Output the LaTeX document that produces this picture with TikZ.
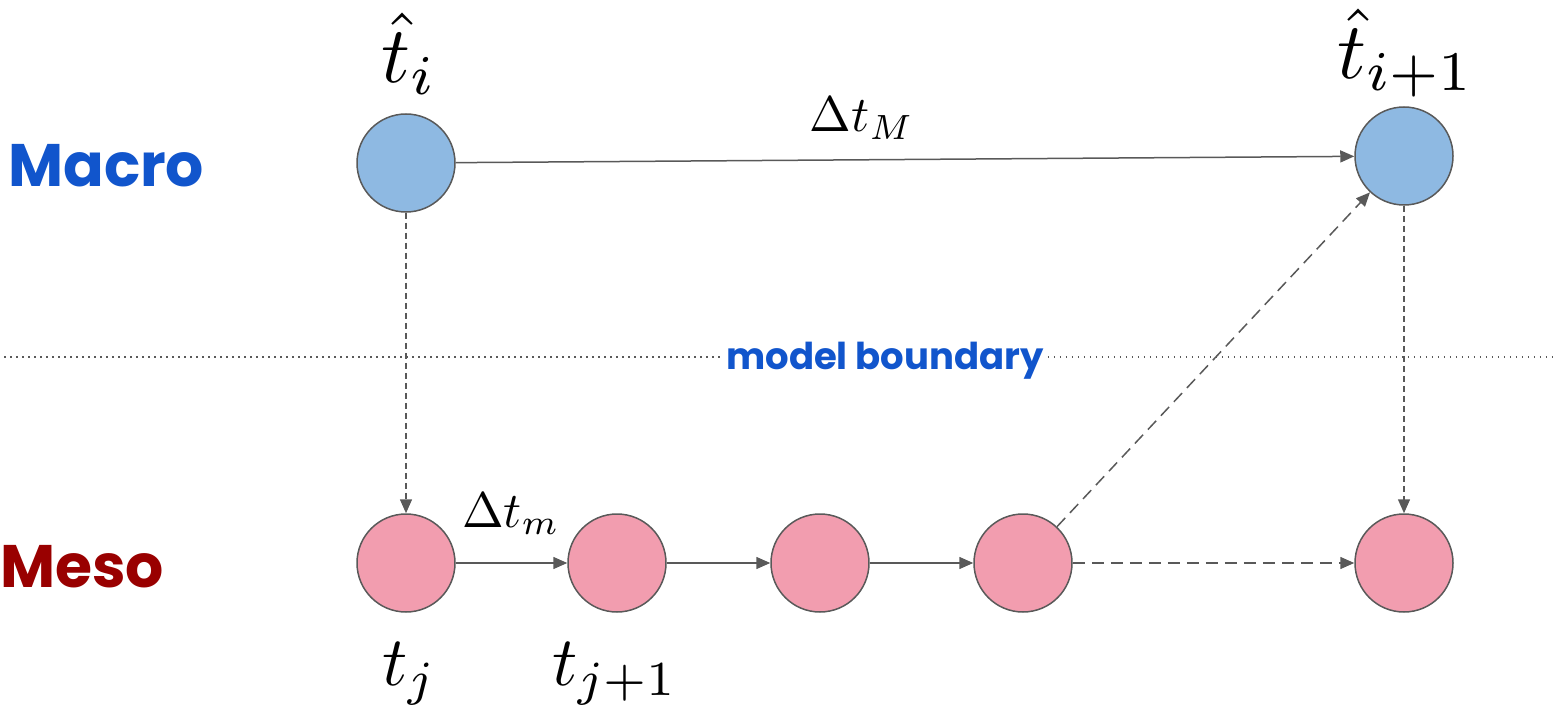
\documentclass[tikz,border=0pt]{standalone}
\usepackage{graphicx}
\usepackage{fontspec}
\usetikzlibrary{arrows.meta}
\newfontfamily\rowfont{Poppins}
\definecolor{edge}{HTML}{595959}
\definecolor{macrofill}{HTML}{8EB9E2}
\definecolor{mesofill}{HTML}{F29DAF}
\definecolor{macroblue}{HTML}{1155CC}
\definecolor{mesored}{HTML}{990000}
\newcommand{\mylargemath}[1]{\scalebox{8}{$#1$}}
\newcommand{\mymidmath}[1]{\scalebox{7}{$#1$}}
\newcommand{\mysmallmath}[1]{\scalebox{5}{$#1$}}
\tikzset{
  state/.style={circle, draw=edge, line width=1.5pt, minimum size=98pt, inner sep=0pt},
  macrostate/.style={state, fill=macrofill},
  mesostate/.style={state, fill=mesofill},
  conn/.style={draw=edge, line width=1.5pt, -{Triangle[length=14pt,width=12pt]}},
  shortdash/.style={dash pattern=on 6pt off 4pt},
  longdash/.style={dash pattern=on 12pt off 7pt},
  mathlabel/.style={anchor=base, inner sep=0pt},
  rowlabel/.style={anchor=base west, inner sep=0pt, font=\rowfont\bfseries\fontsize{60pt}{66pt}\selectfont},
}
\begin{document}
\begin{tikzpicture}[x=1pt,y=-1pt]
\useasboundingbox (0,0) rectangle (1556,714);
% row labels
\node[rowlabel, text=macroblue] (macro) at (8,187) {Macro};
\node[rowlabel, text=mesored] (meso) at (0,587) {Meso};
% boundary
\node[anchor=base, inner sep=0pt, text=macroblue, font=\rowfont\bfseries\fontsize{37pt}{42pt}\selectfont] (bnd) at (885,369) {model boundary};
\coordinate (bl) at (4,357);
\coordinate (br) at (1556,357);
\draw[edge, line width=1.2pt, dash pattern=on 1.5pt off 4.5pt] (bl) -- ([xshift=-4pt]bnd.west |- bl);
\draw[edge, line width=1.2pt, dash pattern=on 1.5pt off 4.5pt] ([xshift=4pt]bnd.east |- br) -- (br);
% states
\node[macrostate] (A) at (406,163) {};
\node[macrostate] (B) at (1404,156) {};
\node[mesostate] (m1) at (406,563) {};
\node[mesostate] (m2) at (617,563) {};
\node[mesostate] (m3) at (820,563) {};
\node[mesostate] (m4) at (1023,563) {};
\node[mesostate] (m5) at (1404,563) {};
% labels
\node[mathlabel] (lA) at (409,83) {\mylargemath{\hat{t}_i}};
\node[mathlabel] (lB) at (1406,79) {\mylargemath{\hat{t}_{i+1}}};
\node[mathlabel] (l1) at (410,685) {\mymidmath{t_j}};
\node[mathlabel] (l2) at (615,685) {\mymidmath{t_{j+1}}};
\node[mathlabel] (dM) at (862,132) {\mysmallmath{\Delta t_M}};
\node[mathlabel] (dm) at (511,527) {\mysmallmath{\Delta t_m}};
% connectors
\draw[conn] (A) -- (B);
\draw[conn] (m1) -- (m2);
\draw[conn] (m2) -- (m3);
\draw[conn] (m3) -- (m4);
\draw[conn, shortdash] (A) -- (m1);
\draw[conn, shortdash] (B) -- (m5);
\draw[conn, longdash] (m4) -- (B);
\draw[conn, longdash] (m4) -- (m5);
\end{tikzpicture}
\end{document}
